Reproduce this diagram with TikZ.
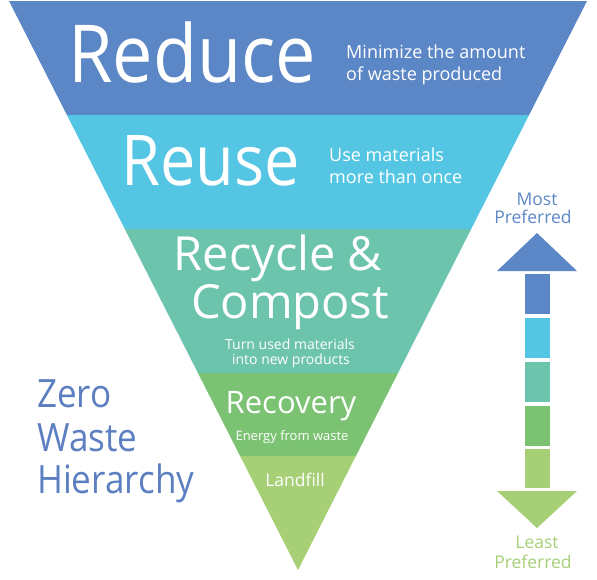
\documentclass[tikz,border=0pt]{standalone}
\usepackage{fontspec}
\setmainfont{Open Sans}[FakeStretch=0.9]
\newfontfamily\wide{Open Sans}
\usetikzlibrary{calc}
\definecolor{cReduce}{RGB}{91,135,198}
\definecolor{cReuse}{RGB}{84,198,227}
\definecolor{cRecycle}{RGB}{109,196,173}
\definecolor{cRecovery}{RGB}{123,195,115}
\definecolor{cLandfill}{RGB}{166,207,118}
\definecolor{cTitle}{RGB}{91,127,193}
\newcommand{\fs}[1]{\fontsize{#1}{#1}\selectfont}
\tikzset{
  wtxt/.style={text=white, inner sep=0pt, anchor=base west},
  ctxt/.style={text=white, inner sep=0pt, anchor=base},
  sq/.style={draw=none, minimum width=25pt, minimum height=40pt, inner sep=0pt, anchor=north west}
}
\begin{document}
\begin{tikzpicture}[x=1pt,y=-1pt]
\useasboundingbox (0,0) rectangle (597,579);
\coordinate (TL) at (9,1);
\coordinate (TR) at (587,1);
\coordinate (A) at (298,570);
% bands
\fill[cReduce] (TL) -- (TR) -- ($(TR)!0.2004!(A)$) -- ($(TL)!0.2004!(A)$) -- cycle;
\fill[cReuse] ($(TL)!0.2004!(A)$) -- ($(TR)!0.2004!(A)$) -- ($(TR)!0.4007!(A)$) -- ($(TL)!0.4007!(A)$) -- cycle;
\fill[cRecycle] ($(TL)!0.4007!(A)$) -- ($(TR)!0.4007!(A)$) -- ($(TR)!0.6538!(A)$) -- ($(TL)!0.6538!(A)$) -- cycle;
\fill[cRecovery] ($(TL)!0.6538!(A)$) -- ($(TR)!0.6538!(A)$) -- ($(TR)!0.7996!(A)$) -- ($(TL)!0.7996!(A)$) -- cycle;
\fill[cLandfill] ($(TL)!0.7996!(A)$) -- ($(TR)!0.7996!(A)$) -- (A) -- cycle;
% texts in bands
\node[wtxt, font=\fs{80}] (reduce) at (68,82) {Reduce};
\node[wtxt, font=\wide\fs{18}] (red1) at (346,58) {Minimize the amount};
\node[wtxt, font=\wide\fs{18}] (red2) at (346,80) {of waste produced};
\node[wtxt, font=\fs{70}] (reuse) at (121,185) {Reuse};
\node[wtxt, font=\wide\fs{18}] (reu1) at (329,161) {Use materials};
\node[wtxt, font=\wide\fs{18}] (reu2) at (329,183) {more than once};
\node[ctxt, font=\wide\fs{47}] (rec1) at (278,270) {Recycle \&};
\node[ctxt, font=\wide\fs{47}] (rec2) at (290,318) {Compost};
\node[ctxt, font=\wide\fs{14}] (rec3) at (290,349) {Turn used materials};
\node[ctxt, font=\wide\fs{14}] (rec4) at (291,364) {into new products};
\node[ctxt, font=\wide\fs{31}] (recov) at (291,413) {Recovery};
\node[ctxt, font=\wide\fs{13}] (recov2) at (292,440) {Energy from waste};
\node[ctxt, font=\wide\fs{17.5}] (landfill) at (295,486) {Landfill};
% title
\node[wtxt, text=cTitle, font=\fs{39}] (t1) at (37,407) {Zero};
\node[wtxt, text=cTitle, font=\fs{39}] (t2) at (37,451) {Waste};
\node[wtxt, text=cTitle, font=\fs{39}] (t3) at (37,493) {Hierarchy};
% preference arrow
\node[ctxt, text=cReduce, font=\wide\fs{17.5}] (most) at (537,205) {Most};
\node[ctxt, text=cReduce, font=\wide\fs{17.5}] (mostp) at (533,223) {Preferred};
\fill[cReduce] (497,271) -- (537,233) -- (577,271) -- cycle;
\node[sq, fill=cReduce] (s1) at (525,274) {};
\node[sq, fill=cReuse] (s2) at (525,318) {};
\node[sq, fill=cRecycle] (s3) at (525,362) {};
\node[sq, fill=cRecovery] (s4) at (525,406) {};
\node[sq, fill=cLandfill, minimum height=39pt] (s5) at (525,449) {};
\fill[cLandfill] (497,491) -- (577,491) -- (537,528) -- cycle;
\node[ctxt, text=cLandfill, font=\wide\fs{17.5}] (least) at (537,548) {Least};
\node[ctxt, text=cLandfill, font=\wide\fs{17.5}] (leastp) at (533,568) {Preferred};
\end{tikzpicture}
\end{document}
